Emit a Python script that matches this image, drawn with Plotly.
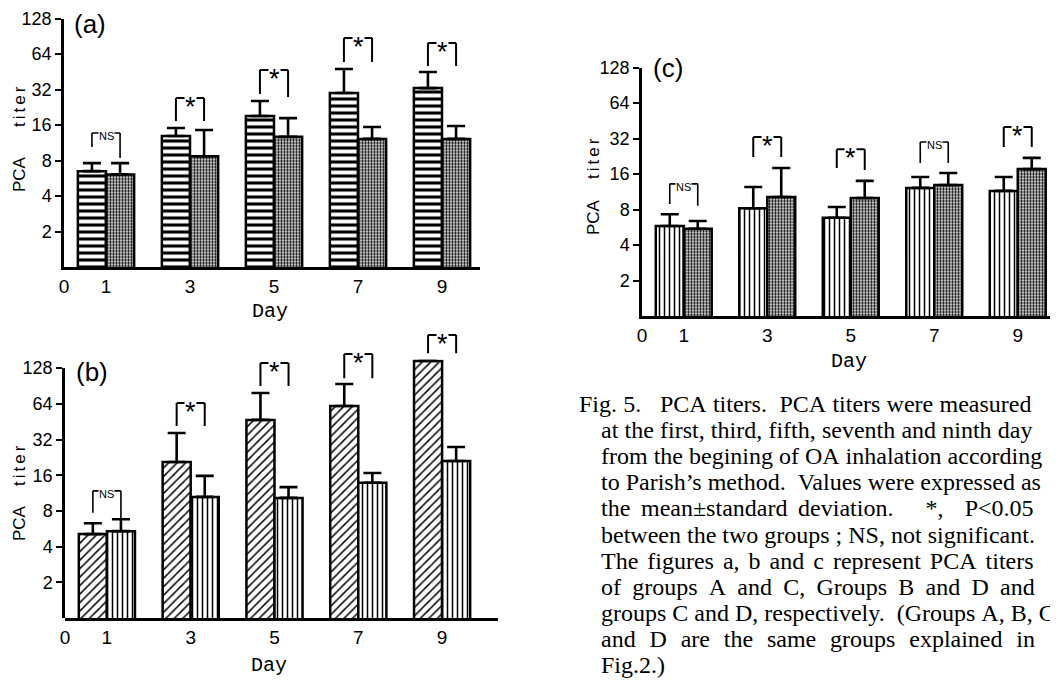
import math
import plotly.graph_objects as go

OFF = 8                      # page body margin of the browser
W, H = 1058 - OFF, 680 - OFF

# ---------------- data ----------------
days = [1, 3, 5, 7, 9]
xtick_vals = [0, 1, 3, 5, 7, 9]
ytick_vals = [2, 4, 8, 16, 32, 64, 128]

# Panel (a): groups A (horizontal stripes) and C (dotted)
a_g1_mean = [6.5, 12.9, 19.1, 29.9, 32.9]
a_g1_upper = [7.6, 15.1, 25.6, 47.8, 45.0]
a_g2_mean = [6.1, 8.7, 12.7, 12.2, 12.2]
a_g2_upper = [7.6, 14.5, 18.3, 15.4, 15.7]
a_sig = ["NS", "*", "*", "*", "*"]
a_br_top = [13.7, 27.1, 46.8, 87.4, 79.3]
a_br_left = [10.4, 17.3, 29.3, 54.7, 50.6]
a_br_right = [8.4, 17.3, 27.6, 54.7, 50.6]

# Panel (b): groups B (diagonal hatch) and D (vertical stripes)
b_g1_mean = [5.1, 20.7, 46.8, 61.4, 147.0]
b_g1_upper = [6.3, 36.3, 79.0, 94.0, 147.0]
b_g2_mean = [5.4, 10.5, 10.3, 13.8, 21.1]
b_g2_upper = [6.8, 15.8, 12.7, 16.7, 27.7]
b_sig = ["NS", "*", "*", "*", "*"]
b_br_top = [11.8, 65.0, 141.0, 168.0, 243.0]
b_br_left = [7.7, 41.6, 90.5, 105.0, 171.0]
b_br_right = [6.7, 41.6, 90.5, 105.0, 171.0]

# Panel (c): groups C (vertical stripes) and D (dotted)
c_g1_mean = [5.8, 8.2, 6.8, 12.2, 11.5]
c_g1_upper = [7.3, 12.4, 8.4, 15.1, 15.1]
c_g2_mean = [5.5, 10.2, 10.0, 12.9, 17.6]
c_g2_upper = [6.4, 18.0, 14.0, 16.3, 21.9]
c_sig = ["NS", "*", "*", "NS", "*"]
c_br_top = [13.2, 32.9, 26.0, 29.9, 40.0]
c_br_left = [8.9, 22.3, 18.0, 19.8, 27.1]
c_br_right = [8.6, 22.3, 17.3, 19.8, 27.1]

caption_lines = [
    "Fig. 5.   PCA titers.  PCA titers were measured",
    "at the first, third, fifth, seventh and ninth day",
    "from the begining of OA inhalation according",
    "to Parish’s method.  Values were expressed as",
    "the mean±standard deviation.   *,  P<0.05",
    "between the two groups ; NS, not significant.",
    "The figures a, b and c represent PCA titers",
    "of groups A and C, Groups B and D and",
    "groups C and D, respectively.  (Groups A, B, C",
    "and D are the same groups explained in",
    "Fig.2.)",
]

# ---------------- styles / layout geometry ----------------
BAR_W = 0.67
SANS = "Liberation Sans"
MONO = "Liberation Mono"
SERIF = "Liberation Serif"

pat_hstripe = dict(shape="-", size=7, solidity=0.45, fgcolor="black", bgcolor="white")
pat_dots = dict(shape=".", size=3, solidity=0.5, fgcolor="black", bgcolor="white")
pat_diag = dict(shape="/", size=6, solidity=0.25, fgcolor="black", bgcolor="white")
pat_vstripe = dict(shape="|", size=5, solidity=0.3, fgcolor="black", bgcolor="white")

panels = [
    dict(name="a", x0=64, ppd=42.0, xmax=9.9, base=267, ppo=35.5, top_oct=7.0,
         g1=(a_g1_mean, a_g1_upper, pat_hstripe), g2=(a_g2_mean, a_g2_upper, pat_dots),
         sig=a_sig, br=(a_br_top, a_br_left, a_br_right),
         label_xy=(90, 24), day_xy=(270, 311), pca_x=19, pca_y=174, titer_y=106),
    dict(name="b", x0=65, ppd=41.9, xmax=10.33, base=618, ppo=35.7, top_oct=8.1,
         g1=(b_g1_mean, b_g1_upper, pat_diag), g2=(b_g2_mean, b_g2_upper, pat_vstripe),
         sig=b_sig, br=(b_br_top, b_br_left, b_br_right),
         label_xy=(92, 372), day_xy=(269, 665), pca_x=19, pca_y=523, titer_y=465),
    dict(name="c", x0=642, ppd=41.75, xmax=9.84, base=316, ppo=35.5, top_oct=7.0,
         g1=(c_g1_mean, c_g1_upper, pat_vstripe), g2=(c_g2_mean, c_g2_upper, pat_dots),
         sig=c_sig, br=(c_br_top, c_br_left, c_br_right),
         label_xy=(668, 68), day_xy=(849, 361), pca_x=593, pca_y=217, titer_y=158),
]


def px(x):
    return (x - OFF) / W


def py(y):
    return 1 - (y - OFF) / H


fig = go.Figure()
layout = dict(
    template="none",
    width=W, height=H, margin=dict(l=0, r=0, t=0, b=0, pad=0, autoexpand=False),
    paper_bgcolor="white", plot_bgcolor="rgba(0,0,0,0)",
    showlegend=False, barmode="overlay",
)
shapes = []
annotations = []

ytick_style = dict(
    automargin=False,
    showgrid=False, zeroline=False, tickmode="array", tickvals=ytick_vals,
    ticks="outside", ticklen=6, tickwidth=2, tickcolor="black",
    tickfont=dict(family=SANS, size=18, color="black"),
    showline=True, linecolor="black", linewidth=2.5,
)

for i, p in enumerate(panels, start=1):
    xa = "x" if i == 1 else f"x{i}"
    ya = "y" if i == 1 else f"y{i}"
    xkey = "xaxis" if i == 1 else f"xaxis{i}"
    ykey = "yaxis" if i == 1 else f"yaxis{i}"

    for k, (mean, upper, pat) in enumerate([p["g1"], p["g2"]]):
        sign = -1 if k == 0 else 1
        fig.add_trace(go.Bar(
            x=[d + sign * BAR_W / 2 for d in days], y=mean, width=BAR_W,
            xaxis=xa, yaxis=ya, hoverinfo="skip",
            marker=dict(color="white", pattern=pat, line=dict(color="black", width=2.5)),
            error_y=dict(type="data", symmetric=False,
                         array=[u - m for u, m in zip(upper, mean)],
                         arrayminus=[0] * len(mean),
                         color="black", thickness=2.6, width=9),
        ))

    x_end = p["x0"] + p["xmax"] * p["ppd"]
    layout[xkey] = dict(
        automargin=False,
        domain=[px(p["x0"]), px(x_end)], range=[0, p["xmax"]], anchor=ya,
        showline=True, linecolor="black", linewidth=2.5, showgrid=False, zeroline=False,
        tickmode="array", tickvals=xtick_vals, ticks="",
        tickfont=dict(family=SANS, size=19, color="black"),
    )
    y_top_px = p["base"] - p["top_oct"] * p["ppo"]
    yax = dict(type="log", domain=[py(p["base"]), py(y_top_px)],
               range=[0, p["top_oct"] * math.log10(2)], anchor=xa, **ytick_style)
    if p["name"] == "b":
        # data axis is taller than the drawn axis (the day-9 bar rises past 128)
        yax.update(showline=False, showticklabels=False, ticks="")
        layout["yaxis4"] = dict(type="log",
                                domain=[py(p["base"]), py(p["base"] - 7 * p["ppo"])],
                                range=[0, 7 * math.log10(2)], anchor=xa, **ytick_style)
        fig.add_trace(go.Scatter(x=[None], y=[None], xaxis=xa, yaxis="y4",
                                 mode="markers", hoverinfo="skip", showlegend=False))
    layout[ykey] = yax

    # significance brackets
    top, left, right = p["br"]
    for d, s, t, l, r in zip(days, p["sig"], top, left, right):
        xl, xr = d - BAR_W / 2, d + BAR_W / 2
        lw = 1.6 if s == "NS" else 2
        line = dict(color="black", width=lw)
        shapes.append(dict(type="line", xref=xa, yref=ya, x0=xl, x1=xl, y0=l, y1=t, line=line))
        shapes.append(dict(type="line", xref=xa, yref=ya, x0=xl, x1=xr, y0=t, y1=t, line=line))
        shapes.append(dict(type="line", xref=xa, yref=ya, x0=xr, x1=xr, y0=t, y1=r, line=line))
        if s == "NS":
            annotations.append(dict(xref=xa, yref=ya, x=d, y=math.log10(t), text="NS",
                                    showarrow=False, yanchor="middle", yshift=-3,
                                    bgcolor="white", borderpad=0,
                                    font=dict(family=SANS, size=11, color="black")))
        else:
            annotations.append(dict(xref=xa, yref=ya, x=d, y=math.log10(t), text="*",
                                    showarrow=False, yanchor="middle", yshift=-9,
                                    bgcolor="white", borderpad=0,
                                    font=dict(family=SANS, size=27, color="black")))

    # panel label, axis titles
    lx, ly = p["label_xy"]
    annotations.append(dict(xref="paper", yref="paper", x=px(lx), y=py(ly), text=f"({p['name']})",
                            showarrow=False, xanchor="center", yanchor="middle", borderpad=0,
                            font=dict(family=SANS, size=26, color="black")))
    dx, dy = p["day_xy"]
    annotations.append(dict(xref="paper", yref="paper", x=px(dx), y=py(dy), text="Day",
                            showarrow=False, xanchor="center", yanchor="middle",
                            font=dict(family=MONO, size=20, color="black")))
    annotations.append(dict(xref="paper", yref="paper", x=px(p["pca_x"]), y=py(p["pca_y"]),
                            text="PCA", textangle=-90, showarrow=False, borderpad=0,
                            xanchor="center", yanchor="middle",
                            font=dict(family=SANS, size=17, color="black")))
    annotations.append(dict(xref="paper", yref="paper", x=px(p["pca_x"]), y=py(p["titer_y"]),
                            text='<span style="letter-spacing:3px">titer</span>', textangle=-90,
                            showarrow=False, xanchor="center", yanchor="middle", borderpad=0,
                            font=dict(family=SANS, size=17, color="black")))

# ---------------- caption (justified with word-spacing) ----------------
TIMES_W = {
    'a': 444, 'b': 500, 'c': 444, 'd': 500, 'e': 444, 'f': 333, 'g': 500, 'h': 500,
    'i': 278, 'j': 278, 'k': 500, 'l': 278, 'm': 778, 'n': 500, 'o': 500, 'p': 500,
    'q': 500, 'r': 333, 's': 389, 't': 278, 'u': 500, 'v': 500, 'w': 722, 'x': 500,
    'y': 500, 'z': 444, 'A': 722, 'B': 667, 'C': 667, 'D': 722, 'F': 556, 'G': 722,
    'N': 722, 'O': 722, 'P': 556, 'S': 556, 'T': 611, 'V': 722, ' ': 250, ',': 250,
    '.': 250, ';': 278, '(': 333, ')': 333, '±': 564, '<': 564, '*': 500, '’': 333,
}
CAP_SIZE = 24
cap_y0, cap_dy = 404, 26.1
cap_right = [1053, 1053, 1053, 1053, 1053, 1050, 1053, 1053, 1040, 1053, None]


def esc(s):
    return s.replace("<", "&lt;").replace(" ", "&nbsp;")


for j, line in enumerate(caption_lines):
    x0 = 578 if j == 0 else 600
    nat = 1.05 * sum(TIMES_W.get(ch, 500) for ch in line) / 1000 * CAP_SIZE
    n_sp = line.count(" ")
    ws = 0.0
    if cap_right[j] is not None and n_sp:
        ws = max(0.0, (cap_right[j] - x0 - nat) / n_sp)
    text = f'<span style="word-spacing:{ws:.2f}px">{esc(line)}</span>'
    annotations.append(dict(xref="paper", yref="paper", x=px(x0), y=py(cap_y0 + j * cap_dy),
                            text=text, showarrow=False, xanchor="left", yanchor="middle",
                            borderpad=0,
                            font=dict(family=SERIF, size=CAP_SIZE, color="black")))

layout["shapes"] = shapes
layout["annotations"] = annotations
fig.update_layout(**layout)
fig.write_html("out.html")
